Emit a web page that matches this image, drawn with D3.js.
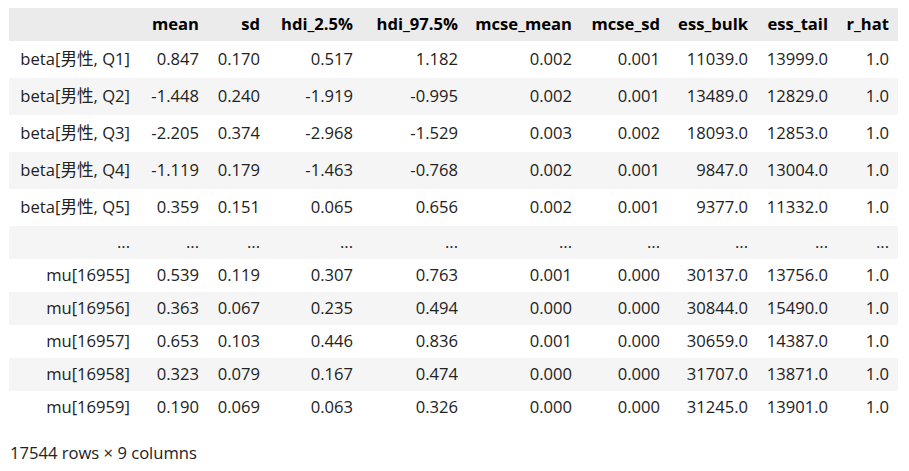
<!DOCTYPE html>
<meta charset="utf-8">
<style>
  body { margin: 0; background: #fff; }
  svg text { font-family: "Segoe UI", "Open Sans", "Noto Sans", "Noto Sans CJK JP", sans-serif; font-size: 16.6px; }
  .hdr { font-weight: 700; fill: #000; }
  .cell { fill: #222; }
</style>
<svg width="909" height="471"></svg>
<script src="https://d3js.org/d3.v7.min.js"></script>
<script>

// --- data ---
var columns = ["mean", "sd", "hdi_2.5%", "hdi_97.5%", "mcse_mean", "mcse_sd", "ess_bulk", "ess_tail", "r_hat"];
var rowLabels = ["beta[男性, Q1]", "beta[男性, Q2]", "beta[男性, Q3]", "beta[男性, Q4]", "beta[男性, Q5]",
  "...", "mu[16955]", "mu[16956]", "mu[16957]", "mu[16958]", "mu[16959]"];

// null = truncated row ("...")
var mean     = [0.847, -1.448, -2.205, -1.119, 0.359, null, 0.539, 0.363, 0.653, 0.323, 0.190];
var sd       = [0.170, 0.240, 0.374, 0.179, 0.151, null, 0.119, 0.067, 0.103, 0.079, 0.069];
var hdiLow   = [0.517, -1.919, -2.968, -1.463, 0.065, null, 0.307, 0.235, 0.446, 0.167, 0.063];
var hdiHigh  = [1.182, -0.995, -1.529, -0.768, 0.656, null, 0.763, 0.494, 0.836, 0.474, 0.326];
var mcseMean = [0.002, 0.002, 0.003, 0.002, 0.002, null, 0.001, 0.000, 0.001, 0.000, 0.000];
var mcseSd   = [0.001, 0.001, 0.002, 0.001, 0.001, null, 0.000, 0.000, 0.000, 0.000, 0.000];
var essBulk  = [11039, 13489, 18093, 9847, 9377, null, 30137, 30844, 30659, 31707, 31245];
var essTail  = [13999, 12829, 12853, 13004, 11332, null, 13756, 15490, 14387, 13871, 13901];
var rHat     = [1.0, 1.0, 1.0, 1.0, 1.0, null, 1.0, 1.0, 1.0, 1.0, 1.0];

var footer = "17544 rows × 9 columns";

var series = [mean, sd, hdiLow, hdiHigh, mcseMean, mcseSd, essBulk, essTail, rHat];
var formats = [".3f", ".3f", ".3f", ".3f", ".3f", ".3f", ".1f", ".1f", ".1f"];

// --- layout ---
var svg = d3.select("svg");
var tableLeft = 9, tableRight = 898, tableTop = 8;
var headerH = 33;
var rowH = rowLabels.map(function (d) { return d.indexOf("男") >= 0 ? 37 : 33; });
var rowTop = [0].concat(Array.from(d3.cumsum(rowH))).map(function (v) { return tableTop + headerH + v; });

var locale = d3.formatLocale({ decimal: ".", thousands: "", grouping: [3], currency: ["", ""], minus: "-" });

// right edge of text in each column
var xCol = d3.scaleOrdinal()
  .domain(["index"].concat(columns))
  .range([130, 199, 260, 353, 458, 572, 660, 748, 828, 889]);

// header
svg.append("rect")
  .attr("x", tableLeft).attr("y", tableTop)
  .attr("width", tableRight - tableLeft).attr("height", headerH)
  .attr("fill", "#ebebeb");

svg.selectAll(".hdr")
  .data(columns)
  .enter().append("text")
  .attr("class", "hdr")
  .attr("x", function (d) { return xCol(d); })
  .attr("y", tableTop + headerH / 2)
  .attr("dy", "0.35em")
  .attr("text-anchor", "end")
  .text(function (d) { return d; });

// body rows
var rows = svg.selectAll(".row")
  .data(rowLabels)
  .enter().append("g")
  .attr("class", "row")
  .attr("transform", function (d, i) { return "translate(0," + rowTop[i] + ")"; });

rows.append("rect")
  .attr("x", tableLeft)
  .attr("width", tableRight - tableLeft)
  .attr("height", function (d, i) { return rowH[i]; })
  .attr("fill", function (d, i) { return i % 2 ? "#f5f5f5" : "#fff"; });

rows.append("text")
  .attr("class", "cell")
  .attr("x", xCol("index"))
  .attr("y", function (d, i) { return rowH[i] / 2; })
  .attr("dy", "0.35em")
  .attr("text-anchor", "end")
  .text(function (d) { return d; });

rows.each(function (label, i) {
  d3.select(this).selectAll(".val")
    .data(columns)
    .enter().append("text")
    .attr("class", "cell val")
    .attr("x", function (c) { return xCol(c); })
    .attr("y", rowH[i] / 2)
    .attr("dy", "0.35em")
    .attr("text-anchor", "end")
    .text(function (c, j) {
      var v = series[j][i];
      return v === null ? "..." : locale.format(formats[j])(v);
    });
});

svg.append("text")
  .attr("class", "cell")
  .attr("x", 10)
  .attr("y", 453)
  .attr("dy", "0.35em")
  .text(footer);

</script>
